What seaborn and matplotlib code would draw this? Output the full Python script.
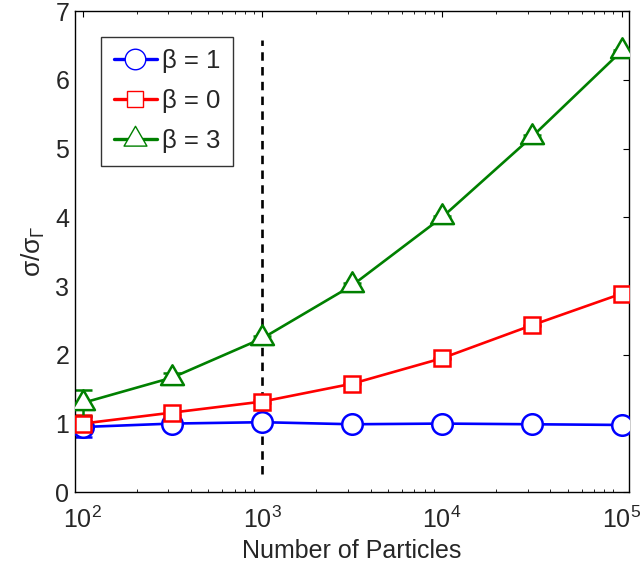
import numpy as np
import pandas as pd
import matplotlib
matplotlib.use("Agg")
import matplotlib.pyplot as plt
from matplotlib.path import Path
import seaborn as sns

# ---- data ----
particles = [100, 316, 1000, 3162, 10000, 31623, 100000]
beta1 = [0.95, 1.00, 1.02, 0.99, 1.00, 0.99, 0.98]
beta0 = [1.00, 1.16, 1.32, 1.58, 1.95, 2.43, 2.89]
beta3 = [1.30, 1.67, 2.24, 3.01, 4.00, 5.17, 6.42]
err1 = [0.14, 0.02, 0.01, 0.01, 0.01, 0.01, 0.01]
err0 = [0.12, 0.03, 0.02, 0.01, 0.01, 0.01, 0.01]
err3 = [0.19, 0.07, 0.04, 0.03, 0.02, 0.02, 0.02]
labels = ["β = 1", "β = 0", "β = 3"]
colors = ["#0000ff", "#ff0000", "#008000"]
vline_x = [1000, 1000]
vline_y = [0.27, 6.58]

# equilateral triangle (centroid-centred), like MATLAB's '^'
tri = Path([(0, 0.577), (-0.5, -0.289), (0.5, -0.289), (0, 0.577)], closed=True)
markers = ["o", "s", tri]
msizes = [14.8, 11.8, 19]

sns.set_theme(style="white")
plt.rcParams['font.family'] = ['Liberation Sans', 'DejaVu Sans']
plt.rcParams['mathtext.fontset'] = 'custom'
plt.rcParams['mathtext.rm'] = 'Liberation Sans'
plt.rcParams['mathtext.it'] = 'Liberation Sans'
plt.rcParams['mathtext.bf'] = 'Liberation Sans'

fig = plt.figure(figsize=(6.44, 5.67), dpi=100)
ax = fig.add_axes([0.116, 0.1317, 0.8607, 0.8488])

series = [beta1, beta0, beta3]
errs = [err1, err0, err3]
df = pd.concat([
    pd.DataFrame({"N": particles, "ratio": s, "beta": lab})
    for s, lab in zip(series, labels)
])

for s, e, lab, c, m, ms in zip(series, errs, labels, colors, markers, msizes):
    sub = df[df["beta"] == lab]
    ax.errorbar(particles, s, yerr=e, fmt="none", ecolor=c, elinewidth=1.8,
                capsize=6.5, capthick=1.8, zorder=2)
    sns.lineplot(data=sub, x="N", y="ratio", ax=ax, color=c, marker=m,
                 markersize=ms, markerfacecolor="white", markeredgecolor=c,
                 markeredgewidth=1.8, linewidth=1.9, label=lab, zorder=3)

ax.plot(vline_x, vline_y, color="black", linestyle=(0, (3.2, 2.4)),
        linewidth=1.9, zorder=1)

ax.set_xscale("log")
ax.set_xlim(90.3, 1.098e5)
ax.set_ylim(0, 7)
ax.set_yticks(range(0, 8))
ax.set_xlabel("Number of Particles", fontsize=18, labelpad=4)
ax.set_ylabel(r"$σ/σ_{Γ}$", fontsize=19, labelpad=6)

ax.tick_params(axis="both", which="major", direction="in", length=4, width=0.8,
               labelsize=18, top=True, right=True, color="black", pad=4)
ax.tick_params(axis="x", which="minor", direction="in", length=2.5, width=0.6,
               top=True, bottom=True, color="black")
ax.tick_params(axis="x", which="major", pad=10.5)
for sp in ax.spines.values():
    sp.set_color("black")
    sp.set_linewidth(1.0)

leg = ax.legend(loc="upper left", bbox_to_anchor=(0.047, 0.947), borderaxespad=0,
                fontsize=18.5, frameon=True, fancybox=False, edgecolor="black",
                handlelength=1.67, handletextpad=0.2, borderpad=0.5,
                labelspacing=0.62, markerscale=1.0)
leg.get_frame().set_linewidth(1.0)
for h in leg.legend_handles:
    h.set_markeredgewidth(1.0)
    h.set_linewidth(2.4)

fig.savefig("out.png", dpi=100)
